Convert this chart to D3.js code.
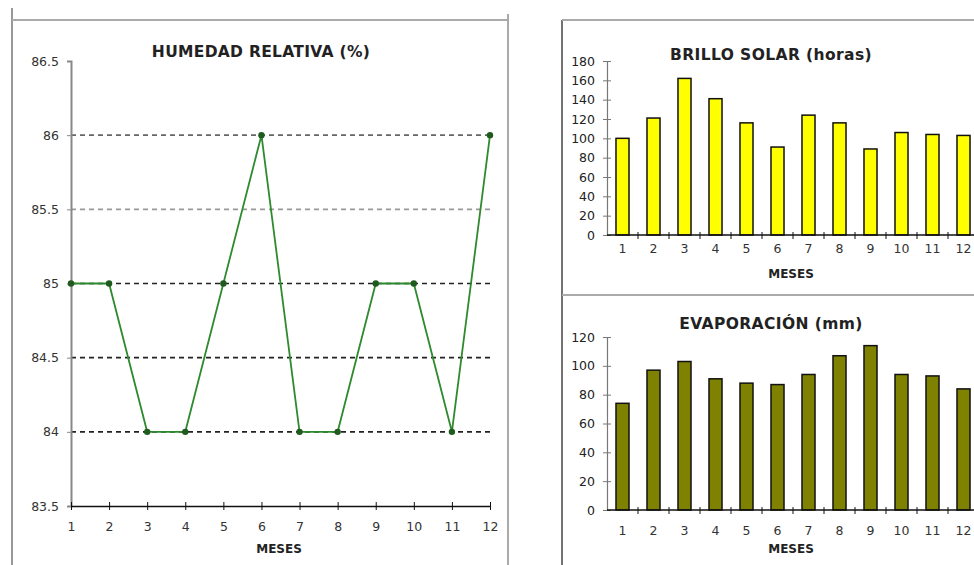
<!DOCTYPE html>
<html>
<head>
<meta charset="utf-8">
<script src="https://cdn.jsdelivr.net/npm/d3@7"></script>
<style>
  html, body { margin: 0; padding: 0; background: #fff; }
  svg { display: block; font-family: "DejaVu Sans", Verdana, sans-serif; }
</style>
</head>
<body>
<svg id="chart" width="974" height="565"></svg>
<script>
// Monthly climate summary: relative humidity, sunshine hours and evaporation
const months = ["1","2","3","4","5","6","7","8","9","10","11","12"];
const humedad = [85, 85, 84, 84, 85, 86, 84, 84, 85, 85, 84, 86];
const humedadTicks = [83.5, 84, 84.5, 85, 85.5, 86, 86.5];
const brillo = [100, 121, 162, 141, 116, 91, 124, 116, 89, 106, 104, 103];
const brilloTicks = [0, 20, 40, 60, 80, 100, 120, 140, 160, 180];
const evaporacion = [74, 97, 103, 91, 88, 87, 94, 107, 114, 94, 93, 84];
const evaporacionTicks = [0, 20, 40, 60, 80, 100, 120];

const FONT = "'DejaVu Sans', Verdana, sans-serif";
const svg = d3.select("#chart");

// ---- panel frames ----
const frame = svg.append("g").attr("fill", "none");
frame.append("line").attr("x1", 12).attr("y1", 8).attr("x2", 12).attr("y2", 565).attr("stroke", "#999").attr("stroke-width", 2);
frame.append("line").attr("x1", 12).attr("y1", 20).attr("x2", 508).attr("y2", 20).attr("stroke", "#aaa").attr("stroke-width", 2);
frame.append("line").attr("x1", 508).attr("y1", 14).attr("x2", 508).attr("y2", 565).attr("stroke", "#aaa").attr("stroke-width", 2);
frame.append("line").attr("x1", 562).attr("y1", 20).attr("x2", 562).attr("y2", 565).attr("stroke", "#444").attr("stroke-width", 1.5);
frame.append("line").attr("x1", 562).attr("y1", 20).attr("x2", 974).attr("y2", 20).attr("stroke", "#aaa").attr("stroke-width", 2);
frame.append("line").attr("x1", 562).attr("y1", 295).attr("x2", 974).attr("y2", 295).attr("stroke", "#aaa").attr("stroke-width", 2);

// ---- HUMEDAD RELATIVA line chart ----
{
  const x = d3.scalePoint().domain(months).range([71, 490]);
  const y = d3.scaleLinear().domain([83.5, 86.5]).range([506, 61]);
  const g = svg.append("g");

  // dashed reference lines
  const grid = humedadTicks.filter(t => t > 83.5 && t < 86.5);
  g.selectAll("line.grid").data(grid).join("line")
    .attr("class", "grid")
    .attr("x1", 71).attr("x2", 490)
    .attr("y1", d => y(d)).attr("y2", d => y(d))
    .attr("stroke", d => d === 85.5 ? "#999" : (d === 86 ? "#666" : "#222"))
    .attr("stroke-width", 1.6)
    .attr("stroke-dasharray", "5,4");

  // y axis
  const yAxis = d3.axisLeft(y).tickValues(humedadTicks).tickSize(4).tickFormat(d => d);
  const ya = g.append("g").attr("transform", "translate(71,0)").call(yAxis);
  ya.attr("font-family", FONT).attr("font-size", 12.5);
  ya.select(".domain").attr("stroke", "#888").attr("stroke-width", 2);
  ya.selectAll(".tick line").attr("stroke", "#888");
  ya.selectAll("text").attr("fill", "#333").attr("x", -12);

  // x axis
  const xAxis = d3.axisBottom(x).tickSizeInner(4).tickSizeOuter(0);
  const xa = g.append("g").attr("transform", "translate(0,506)").call(xAxis);
  xa.attr("font-family", FONT).attr("font-size", 12.5);
  xa.select(".domain").attr("stroke", "#111").attr("stroke-width", 1.6);
  xa.selectAll(".tick line").attr("y1", -4).attr("y2", 4).attr("stroke", "#111");
  xa.selectAll("text").attr("fill", "#333").attr("y", 16).attr("dy", "0.71em");

  // line and markers
  const line = d3.line().x((d, i) => x(months[i])).y(d => y(d));
  g.append("path").datum(humedad)
    .attr("d", line).attr("fill", "none")
    .attr("stroke", "#2f8a2f").attr("stroke-width", 1.8);
  g.selectAll("circle").data(humedad).join("circle")
    .attr("cx", (d, i) => x(months[i])).attr("cy", d => y(d))
    .attr("r", 3.2).attr("fill", "#1f5a1f");

  g.append("text").attr("x", 261).attr("y", 57).attr("text-anchor", "middle")
    .attr("font-size", 15.5).attr("font-weight", "bold").attr("fill", "#222")
    .attr("letter-spacing", 0.3)
    .text("HUMEDAD RELATIVA (%)");
  g.append("text").attr("x", 279).attr("y", 553).attr("text-anchor", "middle")
    .attr("font-size", 12).attr("font-weight", "bold").attr("fill", "#222")
    .text("MESES");
}

// ---- bar chart helper ----
function barChart(opts) {
  const { values, ticks, top, bottom, max, color, title, titleY, labelY, mesesY } = opts;
  const x = d3.scaleBand().domain(months).range([607, 607 + 12 * 31]).paddingInner(0.58).paddingOuter(0.29);
  const y = d3.scaleLinear().domain([0, max]).range([bottom, top]);
  const g = svg.append("g");

  const yAxis = d3.axisLeft(y).tickValues(ticks).tickSize(4);
  const ya = g.append("g").attr("transform", "translate(607,0)").call(yAxis);
  ya.attr("font-family", FONT).attr("font-size", 12.5);
  ya.select(".domain").attr("stroke", "#777").attr("stroke-width", 1.2);
  ya.selectAll(".tick line").attr("stroke", "#777").attr("x2", 4).attr("x1", -4);
  ya.selectAll("text").attr("fill", "#222").attr("x", -12);

  g.selectAll("rect").data(values).join("rect")
    .attr("x", (d, i) => x(months[i]))
    .attr("y", d => y(d))
    .attr("width", x.bandwidth())
    .attr("height", d => bottom - y(d))
    .attr("fill", color)
    .attr("stroke", "#111").attr("stroke-width", 1.5);

  // category axis with ticks at band boundaries
  const xa = g.append("g").attr("transform", `translate(0,${bottom})`);
  xa.append("line").attr("x1", 607).attr("x2", 974).attr("stroke", "#111").attr("stroke-width", 1.5);
  const step = x.step();
  xa.selectAll("line.tk").data(d3.range(1, 12)).join("line")
    .attr("class", "tk")
    .attr("x1", i => 607 + i * step).attr("x2", i => 607 + i * step)
    .attr("y1", -3).attr("y2", 4).attr("stroke", "#111");
  xa.selectAll("text").data(months).join("text")
    .attr("x", d => x(d) + x.bandwidth() / 2)
    .attr("y", labelY - bottom)
    .attr("text-anchor", "middle").attr("font-size", 12.5).attr("fill", "#333")
    .text(d => d);

  g.append("text").attr("x", 771).attr("y", titleY).attr("text-anchor", "middle")
    .attr("font-size", 15.5).attr("font-weight", "bold").attr("fill", "#222")
    .attr("letter-spacing", 0.4)
    .text(title);
  g.append("text").attr("x", 791).attr("y", mesesY).attr("text-anchor", "middle")
    .attr("font-size", 12).attr("font-weight", "bold").attr("fill", "#222")
    .text("MESES");
}

barChart({
  values: brillo, ticks: brilloTicks, top: 61, bottom: 235, max: 180,
  color: "#ffff00", title: "BRILLO SOLAR (horas)", titleY: 60, labelY: 253, mesesY: 278
});

barChart({
  values: evaporacion, ticks: evaporacionTicks, top: 337, bottom: 510, max: 120,
  color: "#7f8200", title: "EVAPORACIÓN (mm)", titleY: 329, labelY: 535, mesesY: 553
});
</script>
</body>
</html>
